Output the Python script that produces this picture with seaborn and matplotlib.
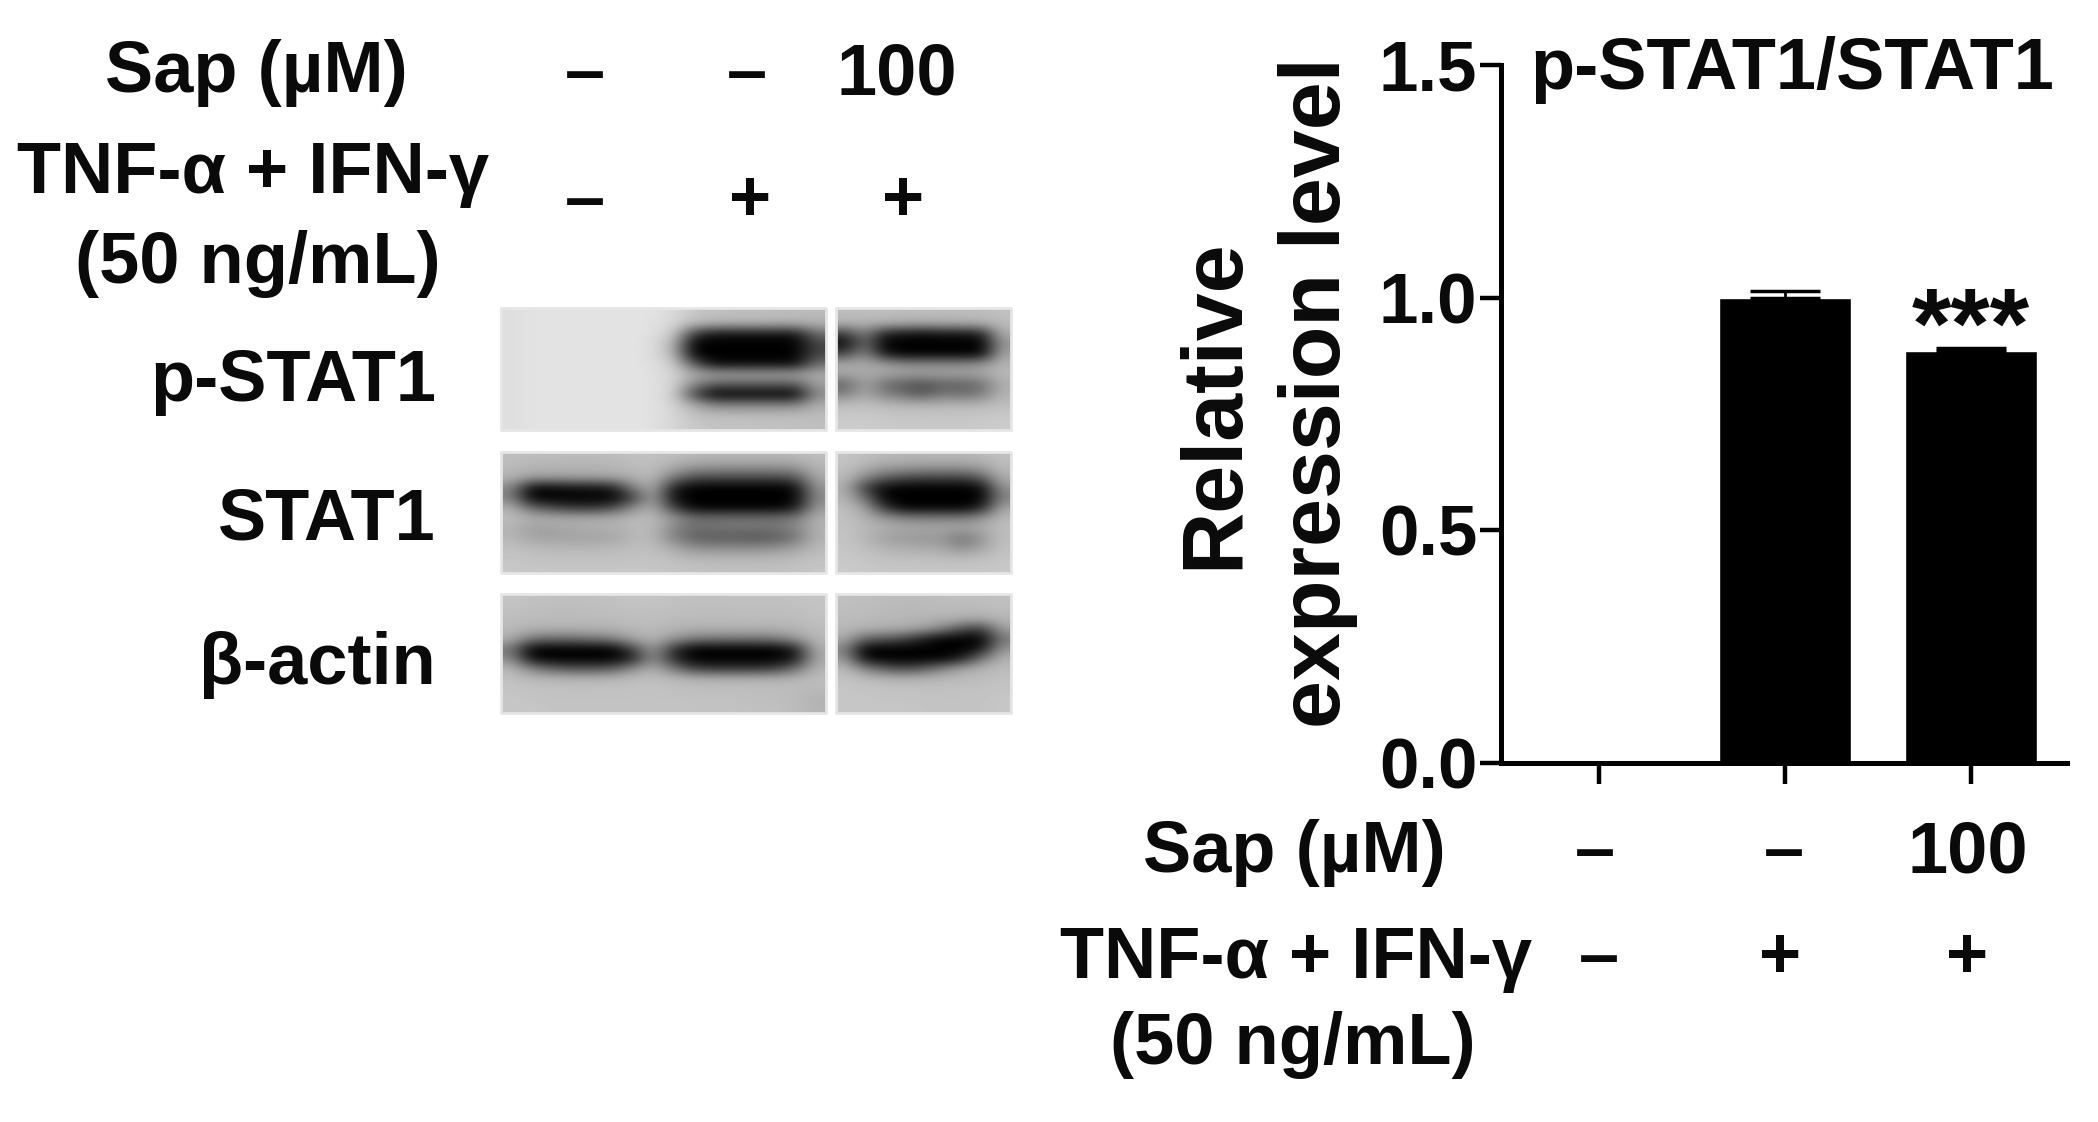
import matplotlib
matplotlib.use("Agg")
import matplotlib.pyplot as plt
import numpy as np
import seaborn as sns

W, H = 2098, 1122

groups = ["Control", "TNF+IFN", "TNF+IFN+Sap"]
values = [0.0, 1.0, 0.885]
errors = [0.0, 0.015, 0.006]
y_ticks = [0.0, 0.5, 1.0, 1.5]

sap_labels = ["–", "–", "100"]
tnf_labels = ["–", "+", "+"]

pstat_left = [
    [222, 226, 228, 228, 228, 228, 228, 226, 218, 198, 192, 190, 190, 188, 188, 186],
    [222, 226, 228, 228, 228, 228, 228, 224, 214, 186, 180, 178, 178, 176, 176, 178],
    [222, 226, 228, 228, 228, 228, 228, 222, 205, 60, 20, 20, 20, 20, 20, 110],
    [222, 226, 228, 228, 228, 228, 228, 220, 180, 0, 0, 0, 0, 0, 0, 70],
    [222, 226, 228, 228, 228, 228, 228, 220, 185, 0, 0, 0, 0, 0, 0, 70],
    [222, 226, 228, 228, 228, 228, 228, 222, 205, 90, 10, 10, 10, 10, 10, 110],
    [222, 226, 228, 228, 228, 228, 228, 224, 212, 172, 165, 165, 165, 165, 165, 172],
    [222, 226, 228, 228, 228, 228, 228, 224, 212, 135, 90, 90, 90, 90, 90, 160],
    [222, 226, 228, 228, 228, 228, 228, 224, 210, 70, 0, 0, 0, 0, 0, 140],
    [222, 226, 228, 228, 228, 228, 228, 224, 212, 170, 130, 130, 130, 130, 130, 172],
    [222, 226, 228, 228, 228, 228, 228, 224, 214, 192, 186, 186, 186, 186, 186, 188],
    [222, 226, 228, 228, 228, 228, 228, 224, 214, 200, 196, 196, 194, 194, 192, 190],
]
pstat_right = [
    [188, 190, 190, 188, 188, 188, 188, 188, 192],
    [180, 178, 176, 172, 170, 172, 174, 176, 188],
    [60, 130, 30, 20, 10, 20, 20, 30, 175],
    [10, 110, 0, 0, 0, 0, 0, 0, 150],
    [70, 140, 20, 0, 0, 0, 0, 0, 165],
    [170, 170, 160, 140, 140, 140, 140, 150, 180],
    [165, 170, 165, 160, 160, 160, 160, 165, 185],
    [100, 165, 110, 90, 75, 100, 95, 110, 175],
    [130, 170, 130, 110, 90, 120, 110, 125, 180],
    [190, 190, 185, 180, 178, 180, 180, 182, 190],
    [200, 200, 198, 196, 196, 196, 196, 198, 200],
    [204, 204, 202, 200, 200, 200, 200, 202, 204],
]
stat_left = [
    [190, 188, 188, 186, 186, 188, 192, 192, 188, 184, 182, 182, 182, 182, 184, 190],
    [186, 180, 178, 178, 178, 180, 186, 190, 170, 150, 146, 146, 146, 146, 150, 180],
    [180, 160, 160, 162, 164, 166, 176, 186, 120, 80, 75, 75, 75, 75, 85, 170],
    [140, 10, 10, 20, 20, 30, 130, 176, 30, 0, 0, 0, 0, 0, 10, 150],
    [130, 0, 0, 0, 0, 0, 60, 170, 10, 0, 0, 0, 0, 0, 0, 140],
    [175, 100, 70, 50, 50, 70, 140, 176, 60, 0, 0, 0, 0, 0, 20, 155],
    [190, 176, 172, 170, 170, 172, 184, 186, 150, 110, 110, 110, 110, 110, 120, 176],
    [180, 160, 165, 170, 175, 176, 185, 186, 135, 110, 115, 120, 118, 118, 135, 178],
    [182, 165, 160, 162, 162, 165, 182, 186, 130, 95, 90, 90, 85, 90, 115, 178],
    [192, 186, 184, 182, 182, 184, 190, 190, 170, 145, 140, 140, 140, 145, 160, 186],
    [196, 194, 192, 192, 192, 192, 194, 194, 188, 182, 180, 180, 180, 182, 186, 192],
    [200, 198, 198, 198, 198, 198, 198, 198, 196, 194, 192, 192, 192, 192, 194, 198],
]
stat_right = [
    [196, 190, 184, 182, 182, 182, 182, 184, 192],
    [192, 176, 160, 155, 150, 150, 150, 160, 186],
    [186, 140, 95, 80, 70, 70, 70, 95, 176],
    [176, 60, 10, 0, 0, 0, 0, 10, 150],
    [180, 110, 0, 0, 0, 0, 0, 0, 130],
    [190, 160, 50, 0, 0, 0, 0, 30, 165],
    [194, 176, 150, 130, 125, 125, 125, 145, 186],
    [194, 184, 176, 170, 168, 168, 165, 172, 190],
    [196, 182, 160, 155, 150, 150, 115, 150, 190],
    [198, 190, 178, 172, 170, 165, 140, 165, 192],
    [200, 196, 192, 190, 190, 188, 186, 190, 196],
    [202, 200, 198, 198, 198, 198, 198, 198, 200],
]
actin_left = [
    [196, 194, 192, 192, 192, 194, 196, 196, 194, 192, 192, 194, 194, 194, 194, 196],
    [192, 190, 188, 188, 190, 190, 192, 192, 190, 190, 188, 190, 190, 190, 190, 194],
    [190, 188, 186, 186, 186, 188, 190, 190, 188, 186, 186, 186, 188, 188, 188, 192],
    [184, 178, 176, 176, 178, 178, 184, 186, 180, 176, 176, 176, 176, 176, 180, 188],
    [176, 120, 110, 110, 120, 130, 165, 180, 150, 125, 120, 120, 120, 125, 150, 184],
    [120, 0, 0, 0, 0, 0, 70, 160, 50, 0, 0, 0, 0, 0, 30, 176],
    [140, 10, 0, 0, 0, 0, 30, 150, 40, 0, 0, 0, 0, 0, 20, 170],
    [184, 130, 95, 80, 80, 90, 140, 176, 120, 60, 50, 50, 50, 60, 110, 180],
    [192, 184, 182, 180, 180, 182, 188, 190, 184, 178, 176, 176, 176, 176, 180, 188],
    [196, 194, 192, 192, 192, 192, 194, 194, 192, 190, 190, 190, 190, 190, 188, 186],
    [198, 196, 194, 194, 194, 194, 194, 194, 194, 192, 192, 192, 190, 190, 186, 178],
    [198, 198, 196, 196, 196, 196, 196, 196, 196, 194, 194, 194, 192, 192, 188, 180],
]
actin_right = [
    [192, 190, 188, 188, 188, 190, 190, 190, 192],
    [190, 188, 186, 184, 184, 186, 186, 186, 190],
    [188, 186, 184, 182, 180, 178, 174, 170, 182],
    [184, 176, 174, 170, 160, 130, 80, 60, 160],
    [170, 100, 90, 70, 30, 0, 0, 0, 120],
    [130, 0, 0, 0, 0, 0, 0, 20, 150],
    [150, 10, 0, 0, 0, 0, 30, 120, 178],
    [186, 130, 90, 70, 90, 130, 165, 180, 188],
    [194, 186, 180, 178, 180, 184, 186, 188, 192],
    [198, 196, 194, 192, 192, 192, 192, 194, 196],
    [198, 198, 196, 196, 196, 194, 194, 196, 198],
    [198, 198, 198, 198, 196, 196, 196, 196, 198],
]

sns.set_theme(style="white")
plt.rcParams["font.family"] = ["Liberation Sans", "DejaVu Sans"]
plt.rcParams["font.weight"] = "bold"

FS = 52
INK = "#0a0a0a"

fig = plt.figure(figsize=(W / 100, H / 100), dpi=100, facecolor="white")

# overlay in pixel coordinates for the blot and the text rows
bg = fig.add_axes([0, 0, 1, 1])
bg.set_xlim(0, W)
bg.set_ylim(H, 0)
bg.axis("off")


def txt(x, y, s, ha="center", size=FS, **kw):
    bg.text(x, y, s, ha=ha, va="center", fontsize=size, fontweight="bold",
            color=INK, **kw)


def strip(grid, x0, x1, y0, y1):
    bg.imshow(np.array(grid), cmap="gray", vmin=0, vmax=255, aspect="auto",
              interpolation="bicubic", extent=(x0, x1, y1, y0), zorder=1)
    bg.plot([x0, x1, x1, x0, x0], [y0, y0, y1, y1, y0], color="#e6e6e6",
            lw=2, zorder=2)


strip(pstat_left, 501, 826, 308, 430)
strip(pstat_right, 836, 1011, 308, 430)
strip(stat_left, 501, 826, 452, 573)
strip(stat_right, 836, 1011, 452, 573)
strip(actin_left, 501, 826, 594, 713)
strip(actin_right, 836, 1011, 594, 713)
bg.set_xlim(0, W)
bg.set_ylim(H, 0)

# left header
txt(408, 73, "Sap (µM)", ha="right")
txt(489, 174, "TNF-α + IFN-γ", ha="right")
txt(441, 264, "(50 ng/mL)", ha="right")
for x, s in zip([585, 747, 897], sap_labels):
    txt(x, 75, s)
for x, t in zip([585, 750, 903], tnf_labels):
    txt(x, 202, t)
txt(436, 382, "p-STAT1", ha="right")
txt(436, 520, "STAT1", ha="right")
txt(436, 665, "β-actin", ha="right")

# bar chart
ax = fig.add_axes([1501 / W, 1 - 763 / H, (2067 - 1501) / W, (763 - 65) / H])
ax.patch.set_alpha(0)
sns.barplot(x=groups, y=values, color="black", width=0.71, saturation=1, ax=ax)
ax.errorbar(groups, values, yerr=[[0, 0, 0], errors], fmt="none", ecolor="black",
            elinewidth=2, capsize=25, capthick=2.5)
ax.set_xlim(-0.527, 2.516)
ax.set_ylim(0, 1.5)
ax.set_yticks(y_ticks)
ax.set_yticklabels([f"{v:.1f}" for v in y_ticks], fontsize=51, fontweight="bold", color=INK)
ax.set_xticks(range(3))
ax.set_xticklabels([])
ax.tick_params(axis="both", length=15, width=3.2, color="black", left=True, bottom=True, pad=2)
sns.despine(ax=ax)
for side in ["left", "bottom"]:
    ax.spines[side].set_linewidth(3.6)
    ax.spines[side].set_color("black")
ax.annotate("***", (2, values[2]), xytext=(0, -20), textcoords="offset points",
            ha="center", va="bottom", fontsize=73, color=INK)

txt(2054, 70, "p-STAT1/STAT1", ha="right", size=52)
bg.text(1215, 404, "Relative", rotation=90, ha="center", va="center",
        fontsize=62, fontweight="bold", color=INK)
bg.text(1318, 393, "expression level", rotation=90, ha="center", va="center",
        fontsize=62, fontweight="bold", color=INK)

# bottom header
txt(1446, 853, "Sap (µM)", ha="right")
txt(1532, 959, "TNF-α + IFN-γ", ha="right")
txt(1476, 1045, "(50 ng/mL)", ha="right")
for x, s in zip([1595, 1784, 1968], sap_labels):
    txt(x, 853, s)
for x, t in zip([1599, 1780, 1967], tnf_labels):
    txt(x, 959, t)

fig.savefig("out.png", dpi=100)
